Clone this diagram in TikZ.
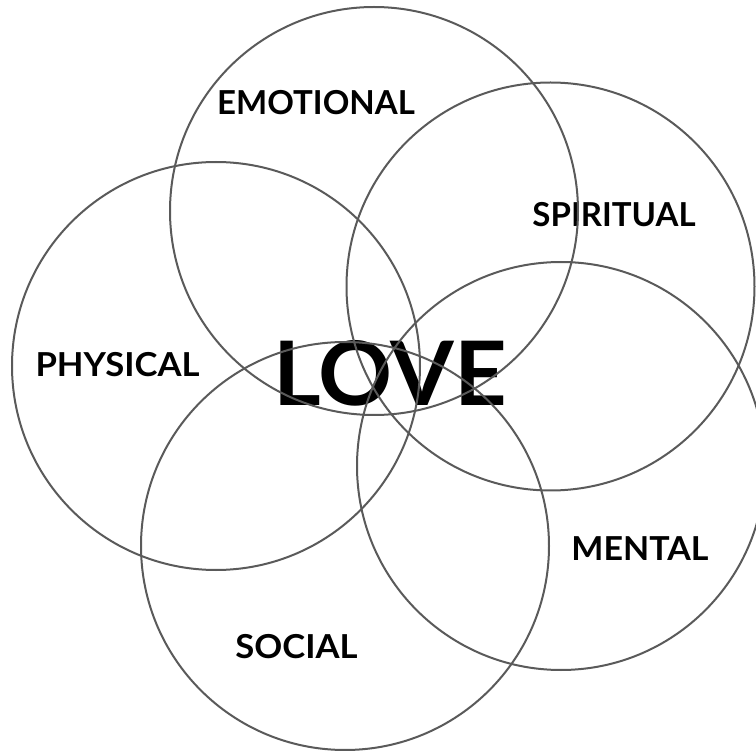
\documentclass[tikz,border=0pt]{standalone}
\usepackage{fontspec}
\setmainfont{Lato}
\newcommand{\widen}[2][1.05]{\scalebox{#1}[1]{#2}}
\begin{document}
\begin{tikzpicture}[x=1pt,y=-1pt,
  ring/.style={circle,draw=ringgray,line width=2pt,minimum size=408pt,inner sep=0pt},
  lbl/.style={anchor=base,inner sep=0pt,font=\fontsize{33}{33}\selectfont\bfseries},
  big/.style={anchor=base,inner sep=0pt,font=\fontsize{89}{89}\selectfont\bfseries}]
\definecolor{ringgray}{HTML}{5A5A5A}
\useasboundingbox (0,0) rectangle (756,751);
\node[lbl] (temo) at (316,115) {\widen[1.0]{EMOTIONAL}};
\node[lbl] (tspi) at (614,227) {\widen[1.0]{SPIRITUAL}};
\node[lbl] (tphy) at (117.5,377) {\widen{PHYSICAL}};
\node[lbl] (tmen) at (640,561) {\widen[1.03]{MENTAL}};
\node[lbl] (tsoc) at (296.5,658) {\widen{SOCIAL}};
\node[big] (tlove) at (390,406) {\scalebox{1.03}[1]{LOVE}};
\begin{scope}
\clip (0,0) rectangle (756,751);
\node[ring] (emo) at (374,211) {};
\node[ring] (spi) at (550.5,286.5) {};
\node[ring] (phy) at (216,366) {};
\node[ring] (men) at (561,466) {};
\node[ring] (soc) at (345,546) {};
\end{scope}
\end{tikzpicture}
\end{document}
